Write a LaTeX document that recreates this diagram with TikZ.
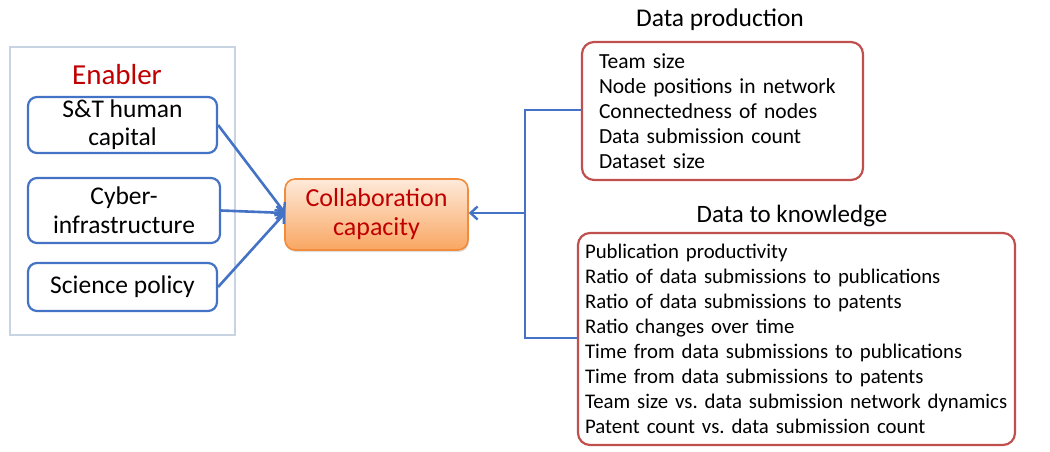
\documentclass[tikz,border=0pt]{standalone}
\usepackage{fontspec}
\setmainfont{Carlito}
\usetikzlibrary{arrows.meta,shadows}
\definecolor{cblue}{RGB}{68,114,196}
\definecolor{cred}{RGB}{192,80,77}
\definecolor{dred}{RGB}{192,0,0}
\definecolor{outergray}{RGB}{200,212,226}
\definecolor{otop}{RGB}{254,234,218}
\definecolor{obot}{RGB}{249,166,98}
\definecolor{oborder}{RGB}{240,140,60}
\begin{document}
\frenchspacing
\begin{tikzpicture}[x=1pt,y=-1pt,
  enbox/.style={draw=cblue,line width=2.2pt,rounded corners=9pt,font=\fontsize{25.5}{28}\selectfont,align=center,inner sep=0pt},
  listbox/.style={draw=cred,line width=2.2pt,rounded corners=12pt,align=left},
  conn/.style={draw=cblue,line width=2.6pt},
  arr/.style={conn,-{Straight Barb[length=7pt,width=13pt,line width=2.4pt]}}
]
\useasboundingbox (0,0) rectangle (1050,452);
% outer enabler frame
\node[draw=outergray,line width=2pt,minimum width=225pt,minimum height=287pt,inner sep=0pt] (frame) at (122.5,191) {};
\node[font=\fontsize{29}{32}\selectfont,text=dred] (enabler) at (117,75) {Enabler};
\node[enbox,minimum width=189pt,minimum height=56pt] (hc) at (122.5,125) {S\&T human\\capital};
\node[enbox,minimum width=192pt,minimum height=65pt,font=\fontsize{25.5}{29}\selectfont] (cy) at (124,210.5) {Cyber-\\infrastructure};
\node[enbox,minimum width=189pt,minimum height=48pt] (sp) at (122.5,287) {Science policy};
% collaboration
\node[draw=oborder,line width=1.6pt,rounded corners=10pt,top color=otop,bottom color=obot,
  minimum width=183pt,minimum height=71pt,inner sep=0pt,font=\fontsize{26}{29}\selectfont,text=dred,align=center,
  drop shadow={opacity=0.25,shadow xshift=1pt,shadow yshift=-2pt}] (cc) at (376.5,214.5) {Collaboration\\capacity};
\coordinate (ccin) at (285,213);
\draw[arr] (hc.east) -- (ccin);
\draw[arr] (cy.east) -- (ccin);
\draw[arr] (sp.east) -- (ccin);
% right lists
\node[font=\fontsize{25.5}{28}\selectfont] (dpt) at (720,20) {Data production};
\node[listbox,font=\fontsize{21.5}{25}\selectfont,text width=247pt,inner xsep=17pt,minimum height=138pt] (dp) at (722.5,111) {Team size\\Node positions in network\\Connectedness of nodes\\Data submission count\\Dataset size};
\node[font=\fontsize{25}{28}\selectfont] (dkt) at (792,216) {Data to knowledge};
\node[listbox,font=\fontsize{20.8}{25}\selectfont,text width=423pt,inner xsep=7pt,minimum height=212pt] (dk) at (796.5,339) {Publication productivity\\Ratio of data submissions to publications\\Ratio of data submissions to patents\\Ratio changes over time\\Time from data submissions to publications\\Time from data submissions to patents\\Team size vs. data submission network dynamics\\Patent count vs. data submission count};
\coordinate (jn) at (525,213);
\coordinate (jt) at (525,110);
\coordinate (jb) at (525,338);
\draw[conn] (dp.west |- jt) -- (jt) -- (jb) -- (dk.west |- jb);
\draw[arr] (jn) -- (cc.east |- jn);
\end{tikzpicture}
\end{document}
